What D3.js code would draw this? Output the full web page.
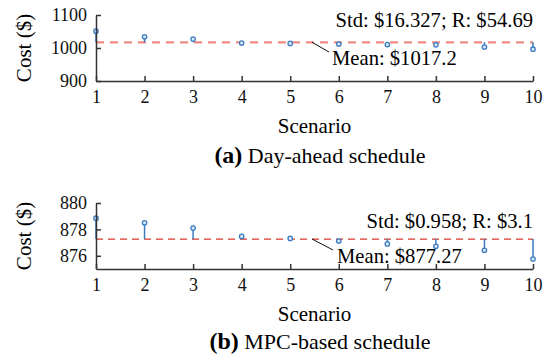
<!DOCTYPE html>
<html>
<head>
<meta charset="utf-8">
<script src="https://cdn.jsdelivr.net/npm/d3@7"></script>
<style>
  body { margin: 0; background: #fff; }
  svg { display: block; font-family: "Liberation Serif", "Times New Roman", serif; }
</style>
</head>
<body>
<div class="chart"></div>
<script>
const scenarios = [1, 2, 3, 4, 5, 6, 7, 8, 9, 10]

// (a) day-ahead schedule costs
const dayAheadCost = [1051, 1034, 1027, 1015, 1014, 1012, 1010.5, 1009.5, 1003, 996.3]
const dayAheadMean = 1017.2
const dayAheadTicks = [900, 1000, 1100]
const dayAheadStats = "Std: $16.327; R: $54.69"
const dayAheadMeanLabel = "Mean: $1017.2"

// (b) MPC-based schedule costs
const mpcCost = [878.85, 878.5, 878.1, 877.47, 877.32, 877.12, 876.9, 876.72, 876.42, 875.75]
const mpcMean = 877.27
const mpcTicks = [876, 878, 880]
const mpcStats = "Std: $0.958; R: $3.1"
const mpcMeanLabel = "Mean: $877.27"

const width = 547
const height = 362
const axisColor = "#333"
const stemColor = "#3d7cc0"

const svg = d3.select(".chart").append("svg").attr("width", width).attr("height", height)

const xScale = d3.scaleLinear().domain([1, 10]).range([96, 533])

const drawPanel = (opts) => {
  const { values, mean, ticks, domain, top, bottom, stats, meanLabel, letter, caption, meanColor, meanWidth, meanDash, statsY, meanTextDx, meanTextY, leaderEnd } = opts

  const yScale = d3.scaleLinear().domain(domain).range([bottom, top])
  const g = svg.append("g")

  // mean line
  g.append("line")
    .attr("x1", xScale(1)).attr("x2", xScale(10))
    .attr("y1", yScale(mean)).attr("y2", yScale(mean))
    .attr("stroke", meanColor)
    .attr("stroke-width", meanWidth)
    .attr("stroke-dasharray", meanDash)

  // stems from mean to value
  g.selectAll(".stem").data(values).enter().append("line")
    .attr("class", "stem")
    .attr("x1", (d, i) => xScale(scenarios[i]))
    .attr("x2", (d, i) => xScale(scenarios[i]))
    .attr("y1", yScale(mean))
    .attr("y2", d => yScale(d))
    .attr("stroke", stemColor)
    .attr("stroke-width", 1.5)

  g.selectAll(".dot").data(values).enter().append("circle")
    .attr("class", "dot")
    .attr("cx", (d, i) => xScale(scenarios[i]))
    .attr("cy", d => yScale(d))
    .attr("r", 2.2)
    .attr("fill", "#dbe8f6")
    .attr("stroke", stemColor)
    .attr("stroke-width", 1.3)

  // axes, ticks pointing inward
  const xAxis = d3.axisBottom(xScale).tickValues(scenarios).tickSizeInner(-5).tickSizeOuter(0).tickPadding(9.5)
  const yAxis = d3.axisLeft(yScale).tickValues(ticks).tickFormat(d3.format("d")).tickSizeInner(-5).tickSizeOuter(0).tickPadding(9)

  const xg = g.append("g").attr("transform", `translate(0, ${bottom})`).call(xAxis)
  const yg = g.append("g").attr("transform", `translate(${xScale(1)}, 0)`).call(yAxis)

  ;[xg, yg].forEach(a => {
    a.attr("font-family", null).attr("font-size", null)
    a.selectAll("path, line").attr("stroke", axisColor).attr("stroke-width", 1.5)
    a.selectAll("text").attr("fill", "#111").style("font-size", "18px")
  })

  // axis titles
  g.append("text")
    .attr("transform", `translate(31, ${(top + bottom) / 2}) rotate(-90)`)
    .attr("text-anchor", "middle")
    .style("font-size", "21px")
    .text("Cost ($)")

  g.append("text")
    .attr("x", (xScale(1) + xScale(10)) / 2)
    .attr("y", bottom + 52)
    .attr("text-anchor", "middle")
    .style("font-size", "21px")
    .text("Scenario")

  // stats annotation
  g.append("text")
    .attr("x", xScale(10))
    .attr("y", statsY)
    .attr("text-anchor", "end")
    .style("font-size", "20.6px")
    .text(stats)

  // mean annotation with leader line
  const lx = xScale(5.45)
  g.append("line")
    .attr("x1", lx).attr("y1", yScale(mean))
    .attr("x2", leaderEnd[0]).attr("y2", leaderEnd[1])
    .attr("stroke", "#111").attr("stroke-width", 1)

  g.append("text")
    .attr("x", lx + meanTextDx)
    .attr("y", meanTextY)
    .style("font-size", "20.6px")
    .text(meanLabel)

  // caption
  const cap = g.append("text")
    .attr("x", 320)
    .attr("y", bottom + (letter === "(a)" ? 82 : 80))
    .attr("text-anchor", "middle")
    .style("font-size", "22px")
  cap.append("tspan").style("font-weight", "bold").style("font-size", "24px").text(letter)
  cap.append("tspan").text(" " + caption)
}

drawPanel({
  values: dayAheadCost, mean: dayAheadMean, ticks: dayAheadTicks, domain: [900, 1100],
  top: 15, bottom: 81, stats: dayAheadStats, meanLabel: dayAheadMeanLabel,
  letter: "(a)", caption: "Day-ahead schedule",
  meanColor: "#f08a84", meanWidth: 2.2, meanDash: "8,6",
  statsY: 27, meanTextDx: 20, meanTextY: 65, leaderEnd: [329, 52]
})

drawPanel({
  values: mpcCost, mean: mpcMean, ticks: mpcTicks, domain: [875, 880],
  top: 203, bottom: 269, stats: mpcStats, meanLabel: mpcMeanLabel,
  letter: "(b)", caption: "MPC-based schedule",
  meanColor: "#d9362b", meanWidth: 1.2, meanDash: "7,5",
  statsY: 228, meanTextDx: 25, meanTextY: 263, leaderEnd: [333, 250]
})
</script>
</body>
</html>
